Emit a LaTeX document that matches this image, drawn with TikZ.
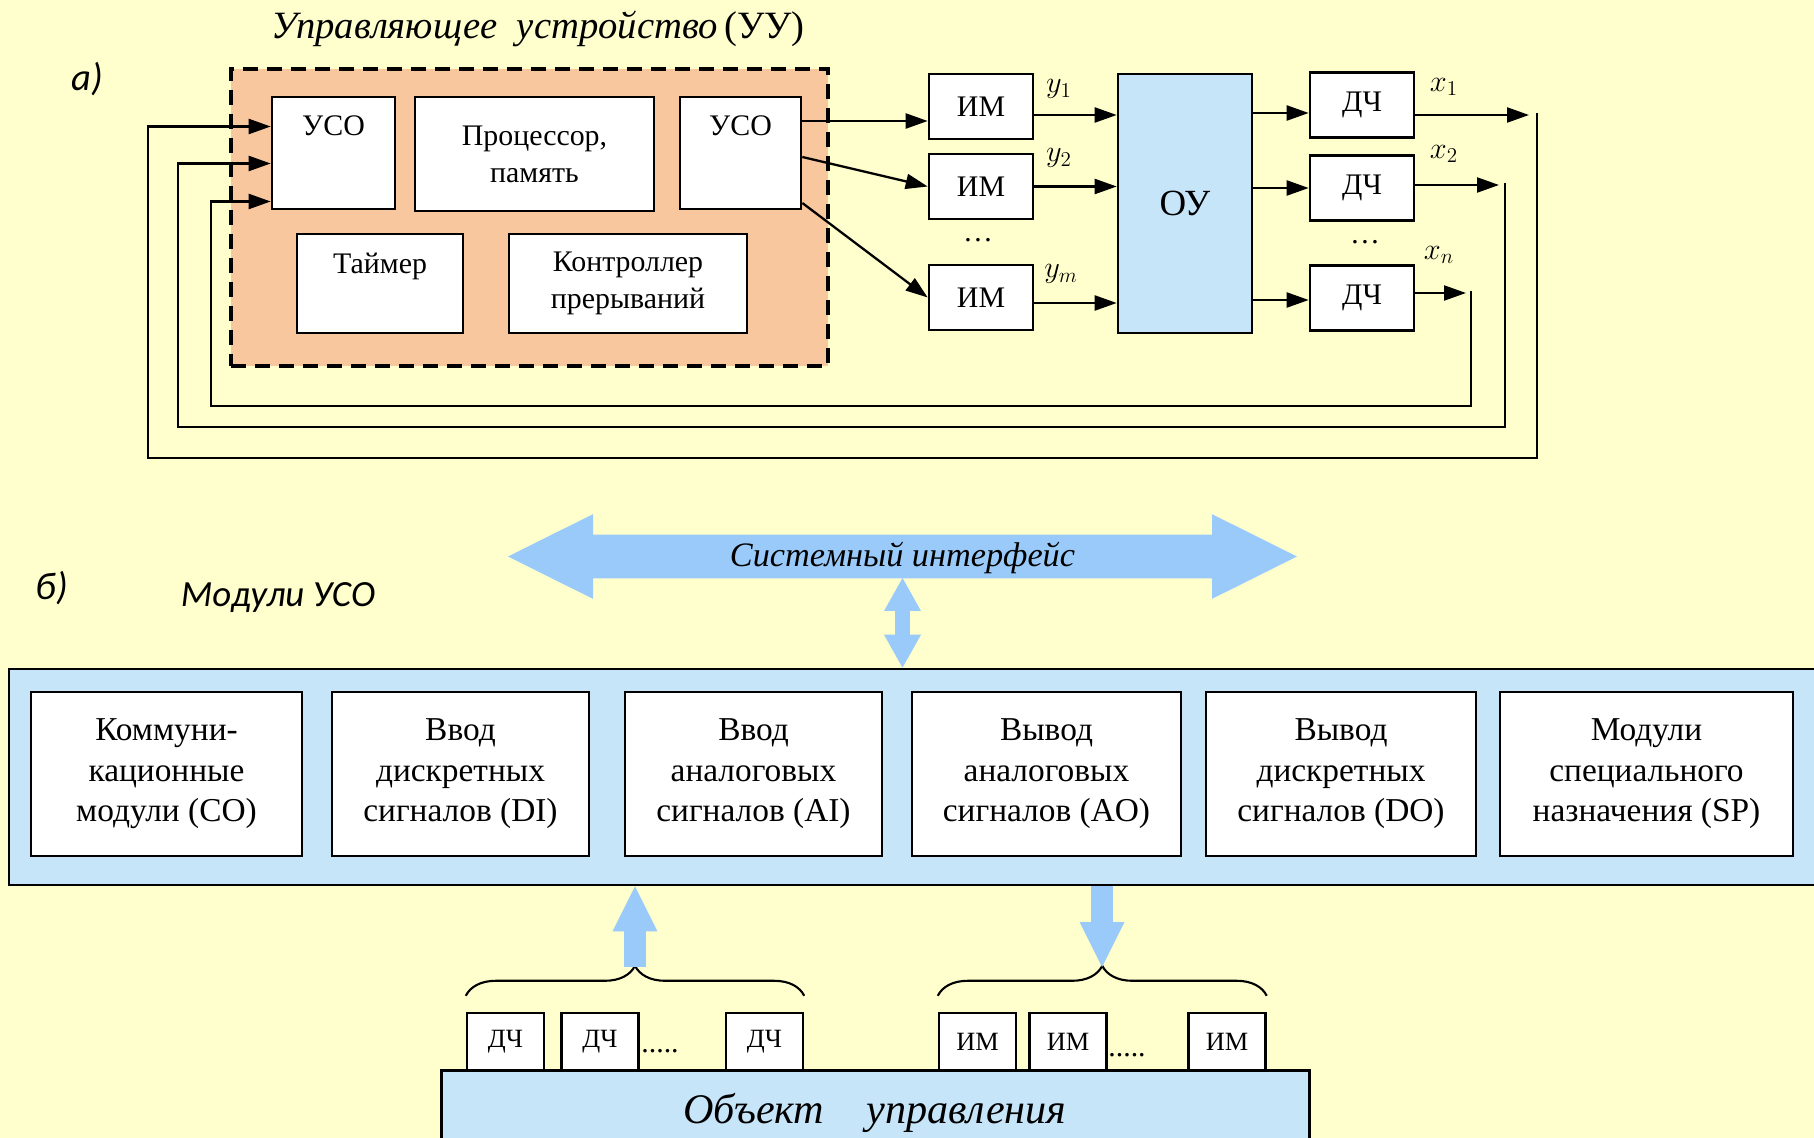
\documentclass[tikz,border=0pt]{standalone}
\usepackage{fontspec}
\setmainfont{Liberation Serif}
\newfontfamily\calib{Carlito}
\usetikzlibrary{arrows.meta,shapes.arrows,decorations.pathreplacing}

\definecolor{paper}{RGB}{255,255,206}
\definecolor{peach}{RGB}{249,199,157}
\definecolor{paleblue}{RGB}{198,229,249}
\definecolor{arrowblue}{RGB}{153,202,250}

\tikzset{
  sz/.style 2 args={minimum width=#1*0.02cm, minimum height=#2*0.02cm},
  blk/.style={draw, line width=1.5pt, fill=white, inner sep=0pt, align=center,
    font=\fontsize{17}{21}\selectfont},
  lbl/.style={anchor=north, yshift=-0.28cm, font=\fontsize{17}{21}\selectfont},
  modul/.style={blk, font=\fontsize{19}{23}\selectfont},
  smallbox/.style={blk, line width=1.4pt, sz={77}{57}, font=\fontsize{15}{18}\selectfont},
  arr/.style={line width=1.3pt, -{Triangle[length=0.44cm, width=0.3cm]}},
  sig/.style={font=\fontsize{17}{21}\selectfont},
  fatarr/.style={arrowblue, line width=0.44cm,
    -{Triangle[length=0.9cm, width=0.9cm, line width=0pt]}},
}

\begin{document}
\begin{tikzpicture}[x=0.02cm, y=-0.02cm]
  \clip (0,0) rectangle (1814,1138);
  \fill[paper] (0,0) rectangle (1814,1138);

  % --- a) control device with plant
  \node[font=\calib\itshape\fontsize{22}{26}\selectfont] (ta) at (87,79) {а)};
  \node[font=\fontsize{22}{26}\selectfont] (tuu) at (538,29)
    {\textit{Управляющее\ \ устройство}\,(УУ)};
  \node[draw, line width=2pt, dash pattern=on 0.3cm off 0.18cm, fill=peach,
    sz={597}{297}] (uu) at (529.5,217.5) {};

  \node[blk, sz={123}{112}, label={[lbl]north:УСО}] (usoL) at (333.5,153) {};
  \node[blk, sz={239}{114}] (cpu) at (534.5,154) {Процессор,\\память};
  \node[blk, sz={121}{112}, label={[lbl]north:УСО}] (usoR) at (740.5,153) {};
  \node[blk, sz={166}{99}, label={[lbl]north:Таймер}] (tmr) at (380,283.5) {};
  \node[blk, sz={238}{99}] (intc) at (628,283.5) {Контроллер\\прерываний};

  \node[blk, sz={104}{65}] (im1) at (981,106.5) {ИМ};
  \node[blk, sz={104}{65}] (im2) at (981,186.5) {ИМ};
  \node[blk, sz={104}{65}] (im3) at (981,297.5) {ИМ};
  \node[sig] (imdots) at (978,240) {\dots};

  \node[blk, fill=paleblue, sz={134}{259}, font=\fontsize{21}{25}\selectfont] (ou) at (1185,203.5) {ОУ};

  \node[blk, sz={104}{65}] (dch1) at (1362,105) {ДЧ};
  \node[blk, sz={104}{65}] (dch2) at (1362,188) {ДЧ};
  \node[blk, sz={104}{65}] (dch3) at (1362,298) {ДЧ};
  \node[sig] (dchdots) at (1365,242) {\dots};

  % outputs of the device
  \draw[arr] ([yshift=0.64cm]usoR.east) -- ([yshift=0.64cm]usoR.east -| im1.west);
  \draw[arr] ([yshift=-0.08cm]usoR.east) -- (im2.west);
  \draw[arr] ([yshift=-1.0cm]usoR.east) -- (im3.west);

  \draw[arr] ([yshift=-0.17cm]im1.east) -- ([yshift=-0.17cm]im1.east -| ou.west);
  \draw[arr] (im2.east) -- (im2.east -| ou.west);
  \draw[arr] ([yshift=-0.11cm]im3.east) -- ([yshift=-0.11cm]im3.east -| ou.west);
  \node[sig] (ly1) at (1059,89) {$y_1$};
  \node[sig] (ly2) at (1059,158) {$y_2$};
  \node[sig] (lym) at (1061,274) {$y_m$};

  \draw[arr] ([yshift=-0.16cm]dch1.west -| ou.east) -- ([yshift=-0.16cm]dch1.west);
  \draw[arr] (dch2.west -| ou.east) -- (dch2.west);
  \draw[arr] ([yshift=-0.04cm]dch3.west -| ou.east) -- ([yshift=-0.04cm]dch3.west);

  \coordinate (x1e) at (1529,115);
  \coordinate (x2e) at (1499,185);
  \coordinate (xne) at (1466,293);
  \draw[arr] (dch1.east |- x1e) -- (x1e);
  \draw[arr] (dch2.east |- x2e) -- (x2e);
  \draw[arr] (dch3.east |- xne) -- (xne);
  \node[sig] (lx1) at (1444,87) {$x_1$};
  \node[sig] (lx2) at (1444,154) {$x_2$};
  \node[sig] (lxn) at (1439,255) {$x_n$};

  % feedback
  \coordinate (fb1) at (1537,113);
  \coordinate (fb2) at (1505,183);
  \coordinate (fbn) at (1471,291);
  \coordinate (lp1) at (148,458);
  \coordinate (lp2) at (178,427);
  \coordinate (lpn) at (211,406);
  \draw[arr] (fb1) |- (lp1) |- ([yshift=0.53cm]usoL.west);
  \draw[arr] (fb2) |- (lp2) |- ([yshift=-0.21cm]usoL.west);
  \draw[arr] (fbn) |- (lpn) |- ([yshift=-0.97cm]usoL.west);

  % --- b) I/O modules
  \node[font=\calib\itshape\fontsize{22}{26}\selectfont] (tb) at (52,588) {б)};
  \node[font=\calib\itshape\fontsize{21}{25}\selectfont] (tmod) at (278,598) {Модули УСО};

  \node[double arrow, fill=arrowblue, minimum height=15.78cm,
    double arrow head extend=0.41cm, double arrow tip angle=53,
    inner xsep=0pt, inner ysep=0.07cm, text height=0.55cm, text depth=0.17cm,
    font=\itshape\fontsize{19.5}{24}\selectfont] (bus) at (902.5,556.5) {Системный интерфейс};

  \node[draw, line width=1.5pt, fill=paleblue, sz={1821}{216}] (bar) at (919.5,777) {};

  \draw[arrowblue, line width=0.3cm,
    {Triangle[length=0.66cm, width=0.74cm, line width=0pt]}-{Triangle[length=0.66cm, width=0.74cm, line width=0pt]}]
    ([yshift=-0.43cm]bus.center) -- (bus.center |- bar.north);

  \node[modul, sz={271}{164}] (mco) at (166.5,774) {Коммуни-\\кационные\\модули (CO)};
  \node[modul, sz={257}{164}] (mdi) at (460.5,774) {Ввод\\дискретных\\сигналов (DI)};
  \node[modul, sz={257}{164}] (mai) at (753.5,774) {Ввод\\аналоговых\\сигналов (AI)};
  \node[modul, sz={269}{164}] (mao) at (1046.5,774) {Вывод\\аналоговых\\сигналов (AO)};
  \node[modul, sz={270}{164}] (mdo) at (1341,774) {Вывод\\дискретных\\сигналов (DO)};
  \node[modul, sz={293}{164}] (msp) at (1646.5,774) {Модули\\специального\\назначения (SP)};

  % plant with sensors and actuators
  \node[draw, line width=1.7pt, fill=paleblue, sz={868}{86},
    font=\itshape\fontsize{24}{28}\selectfont] (obj) at (875,1113) {Объект\quad управления};

  \node[smallbox] (sd1) at (505.5,1041.5) {ДЧ};
  \node[smallbox] (sd2) at (600,1041.5) {ДЧ};
  \node[smallbox] (sd3) at (764.5,1041.5) {ДЧ};
  \node[sig, anchor=base west, inner sep=0pt] (sddots) at (641,1052) {.....};
  \node[smallbox] (si1) at (977.5,1041.5) {ИМ};
  \node[smallbox] (si2) at (1068,1041.5) {ИМ};
  \node[smallbox] (si3) at (1227,1041.5) {ИМ};
  \node[sig, anchor=base west, inner sep=0pt] (sidots) at (1108,1056) {.....};

  \draw[line width=1.2pt, decorate, decoration={brace, amplitude=0.6cm}]
    ([yshift=0.32cm]sd1.north west) -- ([yshift=0.32cm]sd3.north east);
  \draw[line width=1.2pt, decorate, decoration={brace, amplitude=0.6cm}]
    ([yshift=0.32cm]si1.north west) -- ([yshift=0.32cm]si3.north east);

  \coordinate (tipL) at (635,967);
  \coordinate (tipR) at (1102,967);
  \draw[fatarr] (tipL) -- (tipL |- bar.south);
  \draw[fatarr] (tipR |- bar.south) -- (tipR);
\end{tikzpicture}
\end{document}
